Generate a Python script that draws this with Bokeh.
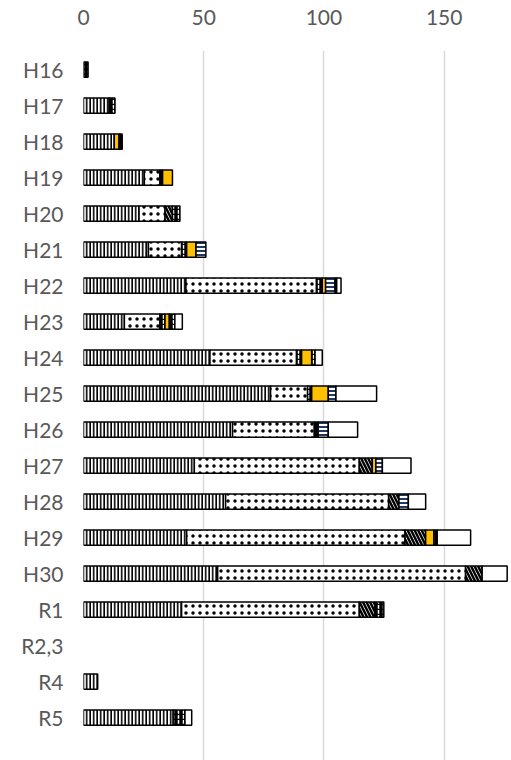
import numpy as np
from bokeh.plotting import figure
from bokeh.models import ColumnDataSource, Range1d, FixedTicker
from bokeh.embed import file_html
from bokeh.resources import INLINE

categories = ["H16", "H17", "H18", "H19", "H20", "H21", "H22", "H23", "H24", "H25",
              "H26", "H27", "H28", "H29", "H30", "R1", "R2,3", "R4", "R5"]

vertical = [0, 10.7, 12.8, 25.3, 23.1, 27.0, 42.6, 17.0, 52.6, 77.8,
            62.0, 46.1, 59.1, 42.9, 55.8, 40.8, 0, 5.9, 37.3]
dotted = [0, 0, 0, 6.5, 10.8, 13.8, 54.3, 14.8, 36.0, 15.4,
          34.0, 68.6, 67.8, 90.8, 103.1, 73.9, 0, 0, 0]
dark_dash = [1.9, 2.4, 0, 1.1, 0, 2.1, 2.4, 2.1, 2.1, 1.7,
             1.6, 0, 0, 0, 0, 0, 0, 0, 4.9]
diagonal = [0, 0, 0, 0, 3.1, 0, 0, 0, 0, 0,
            0, 5.4, 4.3, 8.6, 6.9, 6.5, 0, 0, 0]
orange = [0, 0, 2.0, 4.1, 0, 3.9, 1.4, 1.8, 4.2, 6.9,
          0, 1.5, 0, 3.4, 0, 0, 0, 0, 0]
blue_lines = [0, 0, 0, 0, 0, 4.1, 3.9, 0, 0, 3.2,
              4.2, 2.7, 3.9, 0, 0, 0, 0, 0, 0]
dark_dash2 = [0, 0, 1.3, 0, 3.1, 0, 0.7, 2.3, 1.4, 0,
              0, 0, 0, 1.4, 0, 3.7, 0, 0, 0]
white = [0, 0, 0, 0, 0, 0, 1.8, 3.1, 3.0, 16.9,
         12.2, 11.9, 7.2, 13.9, 10.4, 0, 0, 0, 2.8]

series = [vertical, dotted, dark_dash, diagonal, orange, blue_lines, dark_dash2, white]
styles = [
    dict(fill_color="white", hatch_pattern="vertical_line", hatch_color="black", hatch_scale=3.5, hatch_weight=1.7),
    dict(fill_color="white", hatch_pattern="dot", hatch_color="black", hatch_scale=7, hatch_weight=1.0),
    dict(fill_color="black", hatch_pattern="vertical_dash", hatch_color="white", hatch_scale=5, hatch_weight=1.5),
    dict(fill_color="white", hatch_pattern="left_diagonal_line", hatch_color="black", hatch_scale=7, hatch_weight=2.5),
    dict(fill_color="#FFC000"),
    dict(fill_color="white", hatch_pattern="horizontal_line", hatch_color="#1F3864", hatch_scale=4, hatch_weight=2),
    dict(fill_color="black", hatch_pattern="vertical_dash", hatch_color="white", hatch_scale=5, hatch_weight=1.5),
    dict(fill_color="white"),
]

y_index = np.arange(len(categories))

p = figure(width=511, height=760, output_backend="svg", toolbar_location=None,
           x_axis_location="above",
           x_range=Range1d(0, 178.0), y_range=Range1d(19.19, -0.53),
           min_border_left=83, min_border_right=0, min_border_top=50, min_border_bottom=0)

cum = np.zeros(len(categories))
for vals, st in zip(series, styles):
    v = np.array(vals, dtype=float)
    mask = v > 0
    src = ColumnDataSource(dict(y=y_index[mask], left=cum[mask], right=(cum + v)[mask]))
    p.hbar(y="y", left="left", right="right", height=0.42, source=src,
           line_color="black", line_width=1.5, **st)
    cum = cum + v

p.outline_line_color = None
p.ygrid.grid_line_color = None
p.xgrid.grid_line_color = "#D9D9D9"
p.xgrid.grid_line_width = 1.5
p.xaxis.ticker = FixedTicker(ticks=[0, 50, 100, 150])
p.yaxis.ticker = FixedTicker(ticks=list(y_index))
p.yaxis.major_label_overrides = {int(i): c for i, c in zip(y_index, categories)}

for ax in (p.xaxis, p.yaxis):
    ax.axis_line_color = None
    ax.major_tick_line_color = None
    ax.minor_tick_line_color = None
    ax.major_label_text_color = "#595959"
    ax.major_label_text_font = "Lato"
    ax.major_label_text_font_size = "21px"
p.xaxis.major_label_standoff = 20
p.yaxis.major_label_standoff = 14

open("out.html", "w").write(file_html(p, INLINE))
